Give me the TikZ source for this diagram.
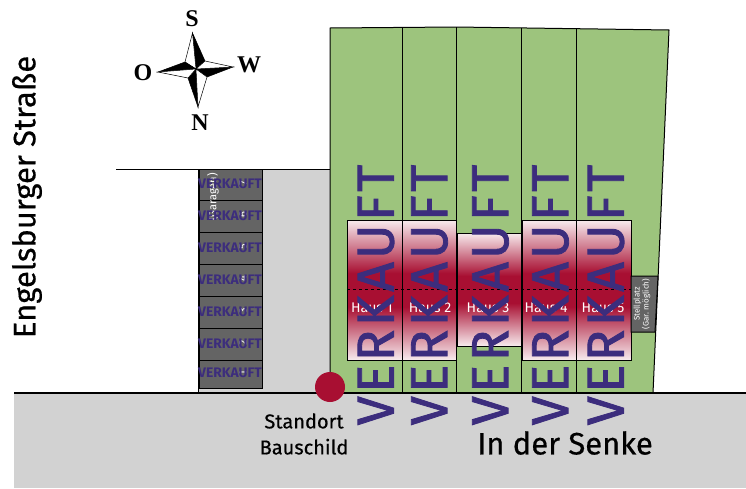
\documentclass[tikz,border=0pt]{standalone}
\usepackage{fontspec}
\setmainfont{Fira Sans}
\newfontfamily\compassfont{Liberation Serif}
\newfontfamily\stampfont[FakeBold=1.6,LetterSpace=7]{Fira Sans}
\newfontfamily\labelfont[FakeBold=0.5]{Fira Sans}
\definecolor{plotgreen}{RGB}{157,196,125}
\definecolor{roadgrey}{RGB}{210,210,210}
\definecolor{blockgrey}{RGB}{100,100,100}
\definecolor{housered}{RGB}{168,15,50}
\definecolor{houseedge}{RGB}{248,235,238}
\definecolor{soldblue}{RGB}{60,45,125}
\pgfdeclareverticalshading{housefade}{100bp}{color(0bp)=(houseedge); color(25bp)=(houseedge); color(44bp)=(housered); color(56bp)=(housered); color(75bp)=(houseedge); color(100bp)=(houseedge)}
\tikzset{
	houseblock/.style={draw=black,line width=1pt,shading=housefade},
	soldbig/.style={rotate=90,text=soldblue,font=\stampfont\fontsize{52}{52}\selectfont,inner sep=0pt},
	soldsmall/.style={text=soldblue,font=\fontsize{13.8}{13.8}\selectfont\bfseries,inner sep=0pt},
	houselabel/.style={text=white,font=\fontsize{14}{14}\selectfont,inner sep=0pt},
	compasslabel/.style={font=\compassfont\bfseries\fontsize{24}{24}\selectfont,inner sep=0pt}
}
\begin{document}
\begin{tikzpicture}[x=1pt,y=-1pt]
\useasboundingbox (0,0) rectangle (746,488);
%----------------------------
% Ground: road, yard, plots
%----------------------------
\fill[roadgrey] (14,393) rectangle (746,488);
\fill[roadgrey] (198,169) rectangle (330,393);
\draw[line width=1pt] (116,169) -- (330,169);
\draw[line width=1pt] (198,169) -- (198,393);
\draw[fill=plotgreen,line width=1pt] (330,393) -- (330,28) -- (456,27) -- (669,30) -- (653,393) -- cycle;
\draw[line width=1.2pt] (14,393) -- (746,393);
% Dividers between the plots
\foreach \px/\ptop in {402/28,456/27,521/28,576/28}
	\draw[line width=1pt] (\px,\ptop) -- (\px,393);

%----------------------------
% Garages
%----------------------------
\foreach \gy/\gh/\gnum in {169/31/7,200/32/6,232/32/5,264/32/4,296/32/3,328/32/2,360/28/1} {
	\draw[fill=blockgrey,line width=1pt] (199,\gy) rectangle (262,\gy+\gh);
	\node[rotate=90,text=white,font=\fontsize{11}{11}\selectfont,inner sep=0pt] (num\gnum) at (243,\gy+\gh/2-1) {\gnum};
}
\node[rotate=90,text=white,font=\fontsize{11}{11}\selectfont,inner sep=0pt] (garagen) at (213,197) {(Garagen)};
\foreach \gy/\gnum in {184/7,216/6,248/5,280/4,312/3,344/2,373/1}
	\node[soldsmall] (soldg\gnum) at (230,\gy) {VERKAUFT};

%----------------------------
% Houses
%----------------------------
\draw[houseblock] (347,220) rectangle (402,360);
\draw[houseblock] (402,220) rectangle (456,360);
\draw[houseblock] (457,233) rectangle (521,346);
\draw[houseblock] (522,220) rectangle (576,360);
\draw[houseblock] (576,220) rectangle (631,360);
\draw[dashed,line width=0.7pt] (347,289) -- (631,289);
% Parking space
\draw[fill=blockgrey,line width=1pt] (631,276) -- (658,276) -- (655,332) -- (631,332) -- cycle;
\node[rotate=90,text=white,font=\fontsize{8}{9}\selectfont,align=center,inner sep=0pt] (stellplatz) at (642,304) {Stellplatz\\(Gar. möglich)};
\node[houselabel] (haus1) at (372,308) {Haus 1};
\node[houselabel] (haus2) at (430,308) {Haus 2};
\node[houselabel] (haus3) at (488,308) {Haus 3};
\node[houselabel] (haus4) at (546,308) {Haus 4};
\node[houselabel] (haus5) at (603,308) {Haus 5};

% Sold stamps over the plots
\node[soldbig] (sold1) at (376,295) {VERKAUFT};
\node[soldbig] (sold2) at (429.5,295) {VERKAUFT};
\node[soldbig] (sold3) at (490.5,295) {VERKAUFT};
\node[soldbig] (sold4) at (550.5,295) {VERKAUFT};
\node[soldbig] (sold5) at (606,295) {VERKAUFT};

%----------------------------
% Labels
%----------------------------
\fill[housered] (330,387) circle (15);
\node[font=\labelfont\fontsize{20}{26}\selectfont,align=center,inner sep=0pt] (standort) at (304,434) {Standort\\Bauschild};
\node[font=\labelfont\fontsize{31}{31}\selectfont,inner sep=0pt] (senke) at (565,443) {In der Senke};
\node[rotate=90,font=\labelfont\fontsize{31}{31}\selectfont,inner sep=0pt] (strasse) at (27,197) {Engelsburger Straße};

%----------------------------
% Compass
%----------------------------
\draw[fill=black,line width=0.5pt] (196,69) -- (192.5,33) -- (205,61) -- cycle;
\draw[fill=white,line width=0.5pt] (196,69) -- (192.5,33) -- (185,62) -- cycle;
\draw[fill=black,line width=0.5pt] (196,69) -- (233,67) -- (207,77) -- cycle;
\draw[fill=white,line width=0.5pt] (196,69) -- (233,67) -- (205,61) -- cycle;
\draw[fill=black,line width=0.5pt] (196,69) -- (198,107) -- (188,78) -- cycle;
\draw[fill=white,line width=0.5pt] (196,69) -- (198,107) -- (207,77) -- cycle;
\draw[fill=black,line width=0.5pt] (196,69) -- (158,72) -- (185,62) -- cycle;
\draw[fill=white,line width=0.5pt] (196,69) -- (158,72) -- (188,78) -- cycle;
\node[compasslabel] (south) at (192,19) {S};
\node[compasslabel] (west) at (249,65) {W};
\node[compasslabel] (north) at (200,123) {N};
\node[compasslabel] (east) at (143,73) {O};
\end{tikzpicture}
\end{document}
